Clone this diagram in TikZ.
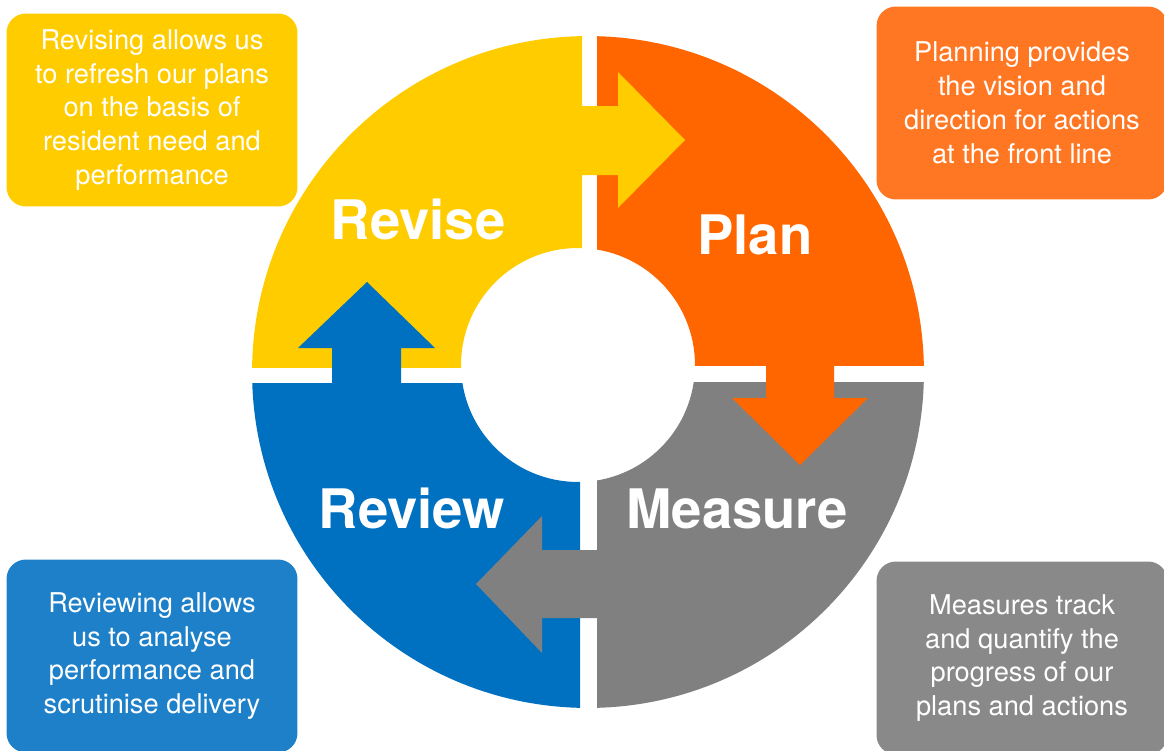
\documentclass[tikz,border=0pt]{standalone}
\usepackage{fontspec}
\setmainfont{TeX Gyre Heros}
\usetikzlibrary{positioning}

\definecolor{reviseyellow}{HTML}{FFCC00}
\definecolor{planorange}{HTML}{FF6600}
\definecolor{measuregrey}{HTML}{808080}
\definecolor{reviewblue}{HTML}{0070C0}
\definecolor{planbox}{HTML}{FF7722}
\definecolor{measurebox}{HTML}{898989}
\definecolor{reviewbox}{HTML}{1E80C8}

\begin{document}
\begin{tikzpicture}[x=0.02cm, y=0.02cm,
        stage/.style={font=\bfseries\fontsize{31}{37}\selectfont, text=white, anchor=base, inner sep=0pt},
        note/.style={rectangle, rounded corners=11pt, text=white, align=center, inner sep=0pt,
            minimum width=5.82cm, minimum height=3.86cm, font=\fontsize{15.5}{19.3}\selectfont}]
    \useasboundingbox (0,0) rectangle (1164,-751);
    \coordinate (centre) at (588,-372);
    \coordinate (hole) at (578,-365);

    % four quarter rings, kept apart by a white cross
    \foreach \col/\xa/\ya/\xb/\yb in {reviseyellow/0/0/582/-367, planorange/597/0/1164/-365,
            measuregrey/597/-382/1164/-751, reviewblue/0/-383/580/-751} {
        \begin{scope}
            \clip (\xa,\ya) rectangle (\xb,\yb);
            \fill[\col, even odd rule] (centre) circle[radius=6.72cm] (hole) circle[radius=2.34cm];
        \end{scope}
    }

    % block arrows pushing round the cycle
    \fill[reviseyellow] (560,-106) -- (618,-106) -- (618,-72) -- (685,-140) -- (618,-208) -- (618,-175) -- (560,-175) -- cycle;
    \fill[planorange] (766,-340) -- (766,-398) -- (732,-398) -- (800,-465) -- (868,-398) -- (834,-398) -- (834,-340) -- cycle;
    \fill[measuregrey] (620,-550) -- (542,-550) -- (542,-516) -- (476,-584) -- (542,-653) -- (542,-618) -- (620,-618) -- cycle;
    \fill[reviewblue] (332,-400) -- (332,-348) -- (298,-348) -- (367,-282) -- (435,-348) -- (401,-348) -- (401,-400) -- cycle;

    \node [stage] (revise) at (418,-239) {Revise};
    \node [stage] (plan) at (755,-254) {Plan};
    \node [stage] (review) at (412,-528) {Review};
    \node [stage] (measure) at (737,-528) {Measure};

    \node [note, fill=reviseyellow] (revisenote) at (152,-110) {Revising allows us\\to refresh our plans\\on the basis of\\resident need and\\performance};
    \node [note, fill=planbox] (plannote) at (1022,-103) {Planning provides\\the vision and\\direction for actions\\at the front line};
    \node [note, fill=reviewbox] (reviewnote) at (152,-656) {Reviewing allows\\us to analyse\\performance and\\scrutinise delivery};
    \node [note, fill=measurebox] (measurenote) at (1022,-658) {Measures track\\and quantify the\\progress of our\\plans and actions};

\end{tikzpicture}
\end{document}
